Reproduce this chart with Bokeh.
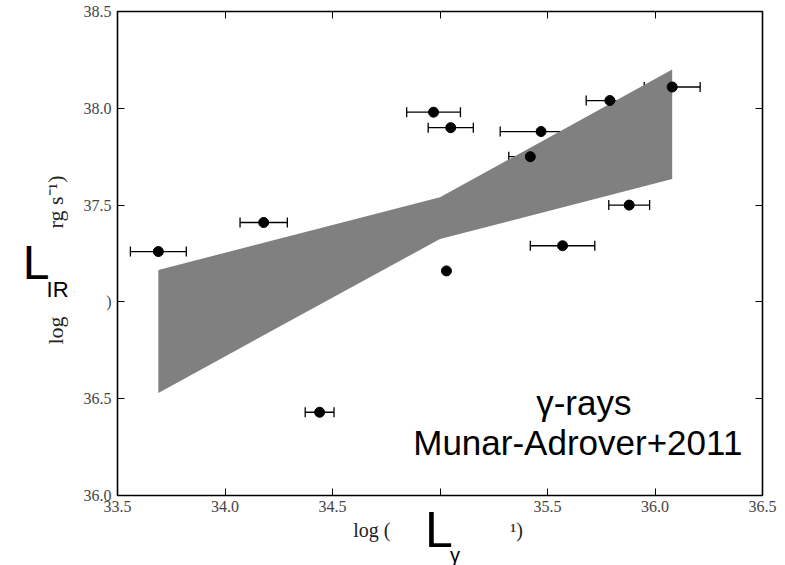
import numpy as np
from bokeh.plotting import figure
from bokeh.models import (ColumnDataSource, Whisker, Label, LinearAxis, FixedTicker, Range1d,
                          TeeHead, PrintfTickFormatter)
from bokeh.embed import file_html
from bokeh.resources import INLINE

# ---- data ----
log_lgamma = [33.69, 34.18, 34.44, 34.97, 35.05, 35.47, 35.42, 35.79, 36.08, 35.88, 35.57, 35.03]
log_lir    = [37.26, 37.41, 36.43, 37.98, 37.90, 37.88, 37.75, 38.04, 38.11, 37.50, 37.29, 37.16]
xerr       = [0.13, 0.11, 0.067, 0.125, 0.105, 0.19, 0.10, 0.11, 0.13, 0.095, 0.15, 0.0]

band_x     = [33.69, 35.00, 36.08]
band_upper = [37.165, 37.54, 38.20]
band_lower = [36.53, 37.325, 37.635]

x_ticks = [33.5, 34.0, 34.5, 35.0, 35.5, 36.0, 36.5]
y_ticks = [36.0, 36.5, 37.0, 37.5, 38.0, 38.5]
X0, X1, Y0, Y1 = 33.5, 36.5, 36.0, 38.5

W, H = 785, 565
FL, FR, FT, FB = 116, 762, 11, 495   # frame edges (canvas px)

p = figure(width=W, height=H, x_range=Range1d(X0, X1), y_range=Range1d(Y0, Y1),
           output_backend="svg", toolbar_location=None,
           min_border_left=FL, min_border_right=W - FR, min_border_top=FT, min_border_bottom=H - FB,
           x_axis_location=None, y_axis_location=None)
p.grid.visible = False
p.outline_line_color = "black"
p.outline_line_width = 1.6
p.background_fill_color = "white"
p.border_fill_color = "white"

p.varea(x=band_x, y1=band_lower, y2=band_upper, fill_color="#808080", fill_alpha=1.0)

ex = [x for x, e in zip(log_lgamma, xerr) if e > 0]
ey = [y for y, e in zip(log_lir, xerr) if e > 0]
ee = [e for e in xerr if e > 0]
wsrc = ColumnDataSource(dict(y=ey, lo=[x - e for x, e in zip(ex, ee)], hi=[x + e for x, e in zip(ex, ee)]))
w = Whisker(source=wsrc, base="y", lower="lo", upper="hi", dimension="width",
            line_color="black", line_width=1.3,
            upper_head=TeeHead(size=10, line_color="black", line_width=1.3),
            lower_head=TeeHead(size=10, line_color="black", line_width=1.3))
p.add_layout(w)
p.scatter(x=log_lgamma, y=log_lir, size=10, color="black")

def style(ax, show, standoff=6):
    ax.axis_line_color = None
    ax.major_tick_in = 7
    ax.major_tick_out = 0
    ax.major_tick_line_color = "black"
    ax.major_tick_line_width = 1
    ax.minor_tick_line_color = None
    ax.formatter = PrintfTickFormatter(format="%.1f")
    ax.major_label_text_font = "Liberation Serif"
    if show:
        ax.major_label_text_color = "#444444"
        ax.major_label_text_font_size = "16px"
        ax.major_label_standoff = standoff
    else:
        ax.major_label_text_color = None
        ax.major_label_text_font_size = "0px"
        ax.major_label_standoff = 0

xb = LinearAxis(ticker=FixedTicker(ticks=x_ticks)); style(xb, True, 5)
xb.major_label_overrides = {35: ""}
xt = LinearAxis(ticker=FixedTicker(ticks=x_ticks)); style(xt, False)
yl = LinearAxis(ticker=FixedTicker(ticks=y_ticks)); style(yl, True, 6)
yl.major_label_overrides = {37: ")"}
yr = LinearAxis(ticker=FixedTicker(ticks=y_ticks)); style(yr, False)
p.add_layout(xb, "below"); p.add_layout(xt, "above")
p.add_layout(yl, "left"); p.add_layout(yr, "right")

# canvas pixel -> data position (for placing annotation texts)
def dx(px): return X0 + (px - FL) * (X1 - X0) / (FR - FL)
def dy(py): return Y0 + (FB - py) * (Y1 - Y0) / (FB - FT)

def lab(text, X, base, size, where=None, font="Liberation Sans", align="left", angle=0.0, color="black"):
    # text is anchored at its vertical centre; shift from the wanted baseline
    Y = base - 0.37 * size if angle == 0.0 else base
    l = Label(x=dx(X), y=dy(Y), text=text, text_font=font, text_font_size=f"{size}px",
              text_align=align, text_baseline="middle", angle=angle, text_color=color)
    if where is None:
        p.add_layout(l)
    else:
        p.add_layout(l, where)

NB = "\u00a0"
# axis-label fragments left visible in the original
lab("log (" + NB * 24 + "\u00b9)", 352, 537, 20, where="below", font="Liberation Serif", color="#222222")
lab("log" + NB * 16 + "rg s\u207b\u00b9)", 54, 344, 22, where="left", font="Liberation Serif",
    angle=np.pi / 2, color="#222222")

# overlay annotations
lab("L", 21, 280, 48, where="left")
lab("IR", 45, 297, 22, where="right")
lab("L", 424, 548, 50, where="left")
lab("\u03b3", 449, 562, 20, where="below")
lab("\u03b3-rays", 583, 415, 35, align="center")
lab("Munar-Adrover+2011", 577, 455, 35, align="center")

open("out.html", "w").write(file_html(p, INLINE))
